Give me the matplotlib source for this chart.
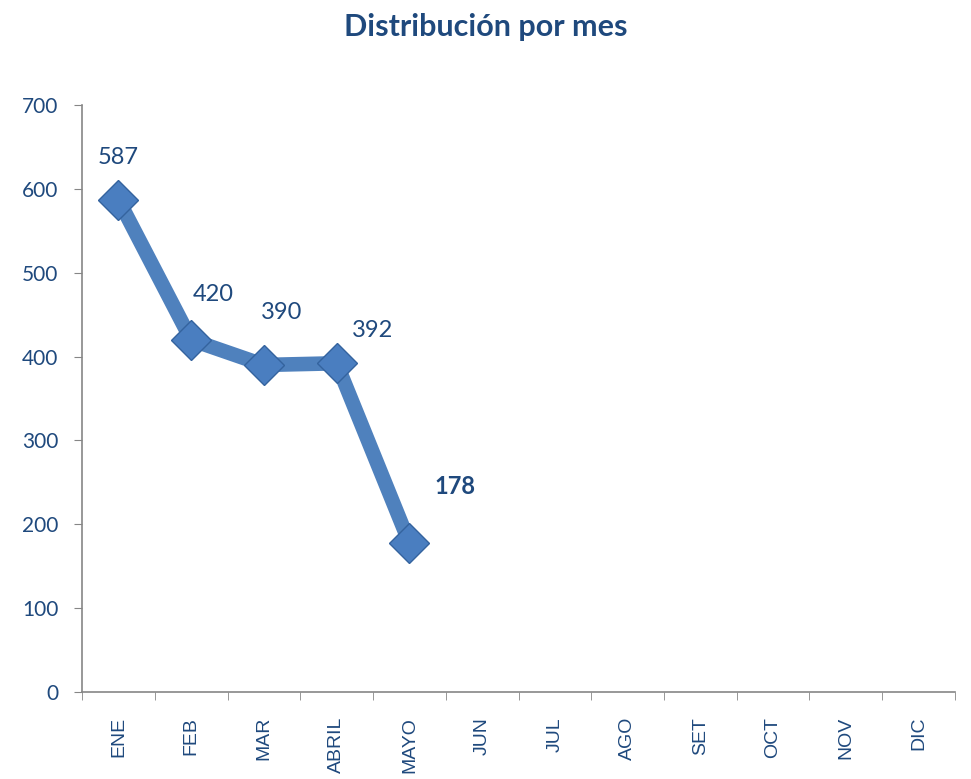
import matplotlib.pyplot as plt
import numpy as np

meses = ['ENE', 'FEB', 'MAR', 'ABRIL', 'MAYO', 'JUN', 'JUL', 'AGO', 'SET', 'OCT', 'NOV', 'DIC']
valores = [587, 420, 390, 392, 178]
# desplazamiento de las etiquetas (px)
offsets = [(0, 42), (22, 45), (18, 52), (36, 33), (46, 56)]

azul = '#4F81BD'
texto = '#1F497D'

fig = plt.figure(figsize=(9.71, 7.79), dpi=100)
ax = fig.add_axes([0.0845, 0.1117, 0.899, 0.7535])

x = np.arange(len(valores))
ax.plot(x, valores, color=azul, lw=10.5, solid_joinstyle='miter', zorder=2)
ax.plot(x, valores, ls='none', marker='D', ms=20, mfc='#4A7EC0', mec='#34639E', mew=1.0, zorder=3)

for i, v in enumerate(valores):
    peso = 'bold' if i == len(valores) - 1 else 'normal'
    ax.annotate(str(v), (x[i], v), xytext=offsets[i], textcoords='offset pixels',
                ha='center', va='center', fontsize=17, color=texto,
                fontfamily='Lato', fontweight=peso)

ax.set_xlim(-0.5, len(meses) - 0.5)
ax.set_ylim(0, 700)
ax.set_yticks(range(0, 701, 100))
ax.set_xticks(np.arange(len(meses)))
ax.set_xticklabels(meses, rotation=90, fontsize=14, color=texto, fontfamily='Liberation Sans')
ax.set_xticks(np.arange(-0.5, len(meses)), minor=True)
ax.tick_params(axis='x', which='major', length=0, pad=18)
ax.tick_params(axis='x', which='minor', length=6, color='#868686')
ax.tick_params(axis='y', length=6, color='#868686', labelsize=15, labelcolor=texto, pad=11)
for lbl in ax.get_yticklabels():
    lbl.set_fontfamily('Lato')

for s in ['top', 'right']:
    ax.spines[s].set_visible(False)
for s in ['left', 'bottom']:
    ax.spines[s].set_color('#868686')
    ax.spines[s].set_linewidth(1.2)

fig.text(0.5, 0.965, 'Distribución por mes', ha='center', va='center',
         fontsize=22, fontweight='bold', color=texto, fontfamily='Lato')

fig.savefig('out.png', dpi=100)
